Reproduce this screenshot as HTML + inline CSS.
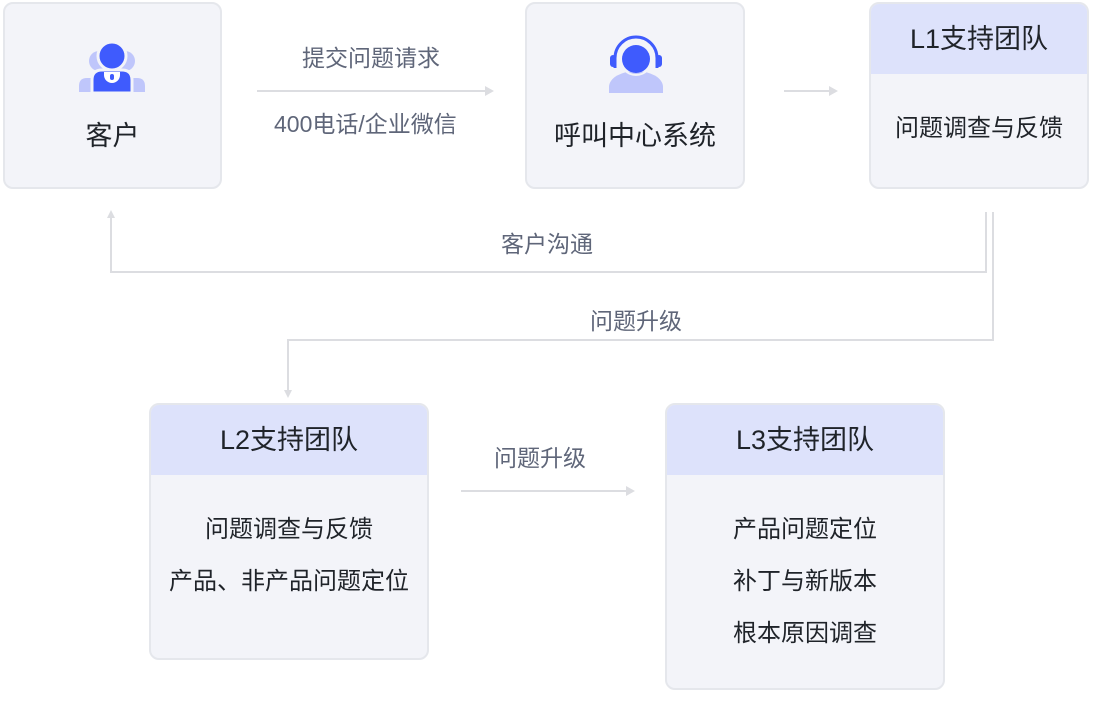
<!DOCTYPE html>
<html><head><meta charset="utf-8"><style>
body{margin:0;width:1096px;height:702px;background:#fff;position:relative;font-family:"Liberation Sans","Noto Sans CJK SC",sans-serif;overflow:hidden}
.box{position:absolute;background:#f3f4f9;border:2px solid #e5e7ec;border-radius:10px;box-sizing:border-box;overflow:hidden;color:#1f2329}
.hd{background:#dde2fb;height:70px;line-height:70px;text-align:center;font-size:27px}
.t{position:absolute;left:0;right:0;text-align:center;white-space:nowrap}
.c{font-size:24px}
.lbl{position:absolute;color:#5f6679;font-size:23px;white-space:nowrap}
svg{position:absolute;left:0;top:0}
</style></head><body>
<div class="box" style="left:3px;top:2px;width:219px;height:187px">
<div class="t" style="top:110px;font-size:27px">客户</div></div>
<div class="box" style="left:525px;top:2px;width:220px;height:187px">
<div class="t" style="top:110px;font-size:27px">呼叫中心系统</div></div>
<div class="box" style="left:869px;top:2px;width:220px;height:187px">
<div class="hd">L1支持团队</div>
<div class="t c" style="top:104px">问题调查与反馈</div></div>
<div class="box" style="left:149px;top:403px;width:280px;height:257px">
<div class="hd">L2支持团队</div>
<div class="t c" style="top:104px">问题调查与反馈</div>
<div class="t c" style="top:156px">产品、非产品问题定位</div></div>
<div class="box" style="left:665px;top:403px;width:280px;height:287px">
<div class="hd">L3支持团队</div>
<div class="t c" style="top:104px">产品问题定位</div>
<div class="t c" style="top:156px">补丁与新版本</div>
<div class="t c" style="top:208px">根本原因调查</div></div>
<div class="lbl" style="left:302px;top:39px">提交问题请求</div>
<div class="lbl" style="left:274px;top:105px">400电话/企业微信</div>
<div class="lbl" style="left:501px;top:225px">客户沟通</div>
<div class="lbl" style="left:590px;top:302px">问题升级</div>
<div class="lbl" style="left:494px;top:439px">问题升级</div>
<svg width="1096" height="702">
<g stroke="#dcdde1" stroke-width="2" fill="none">
<path d="M257 91H486"/><path d="M784 91H830"/>
<path d="M986 212V272H111V218"/>
<path d="M993 212V340H288V390"/>
<path d="M461 491H627"/>
</g>
<g fill="#dcdde1">
<path d="M494 91l-9-5v10z"/><path d="M838 91l-9-5v10z"/>
<path d="M111 210l-4 8h8z"/><path d="M288 398l-4-8h8z"/>
<path d="M635 491l-9-5v10z"/>
</g>
<g fill="#bfc6fb">
<circle cx="99" cy="61" r="10"/><circle cx="125" cy="61" r="10"/>
<path d="M79 92v-6q0-8 8-8h14q8 0 8 8v6z"/>
<path d="M115 92v-6q0-8 8-8h14q8 0 8 8v6z"/>
<path d="M609 93v-6a27 16 0 0 1 54 0v6z"/>
</g>
<g fill="#3f5bfd" stroke="#f3f4f9" stroke-width="3">
<circle cx="112" cy="56" r="14"/>
<path d="M92 93V80q0-10 10-10h20q10 0 10 10v13z"/>
</g>
<g fill="#3f5bfd">
<circle cx="636" cy="59" r="14"/>
<path d="M615 68v-10a21 21 0 0 1 42 0v10" fill="none" stroke="#3f5bfd" stroke-width="3"/>
<rect x="610" y="55" width="6" height="12" rx="3"/><rect x="656" y="55" width="6" height="12" rx="3"/>
</g>
<path d="M104 72v3a8 8 0 0 0 16 0v-3" fill="#fff"/>
<rect x="110" y="74" width="4" height="6" rx="2" fill="#3f5bfd"/>
<circle cx="636" cy="59" r="16" fill="none" stroke="#f3f4f9" stroke-width="2"/>
</svg>
</body></html>
